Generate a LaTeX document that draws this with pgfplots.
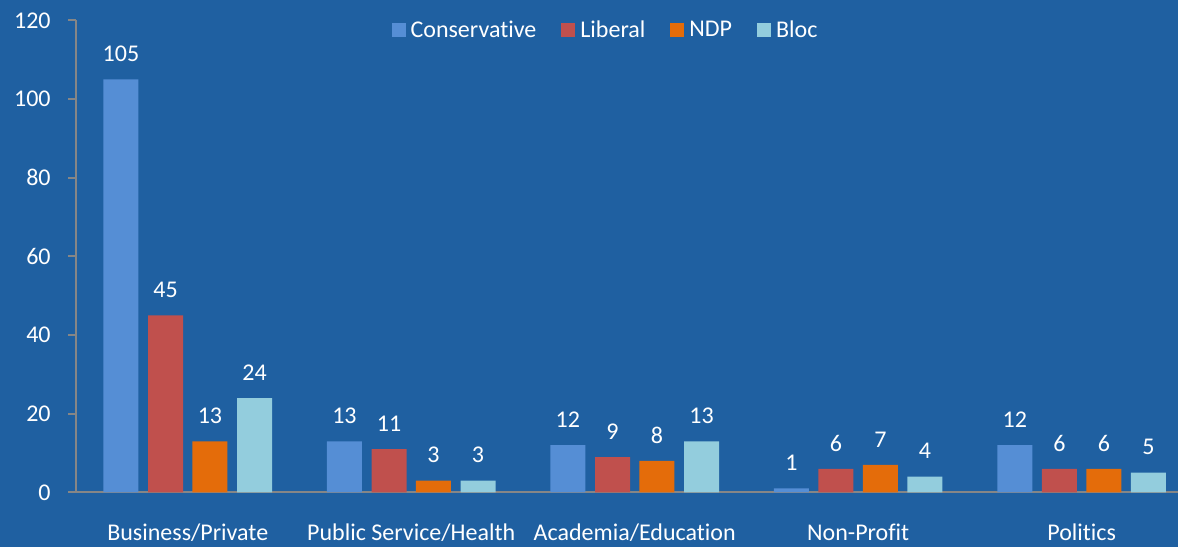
\documentclass[border=0pt]{standalone}
\usepackage{pgfplots}
\pgfplotsset{compat=1.18}
\usepackage{fontspec}
\setmainfont{Carlito}[Ligatures=NoCommon]
\usetikzlibrary{backgrounds}

\definecolor{bgblue}{RGB}{31,96,161}
\definecolor{axisgray}{RGB}{134,134,134}
\definecolor{cons}{RGB}{85,142,213}
\definecolor{lib}{RGB}{192,80,77}
\definecolor{ndp}{RGB}{228,108,10}
\definecolor{bloc}{RGB}{147,205,221}

\begin{document}
\begin{tikzpicture}[font=\fontsize{12}{14.4}\selectfont]
\begin{axis}[
    at={(0,0)}, anchor=south west,
    width=551pt, height=236pt, scale only axis,
    xmin=-0.5, xmax=4.431, ymin=0, ymax=120,
    axis lines*=left,
    axis line style={draw=axisgray, line width=1pt},
    xtick={0,1,2,3,4},
    xticklabels={Business/Private, Public Service/Health, Academia/Education, Non-Profit, Politics},
    x tick style={draw=none},
    xticklabel style={anchor=base, yshift=-20pt, text=white},
    ytick={0,20,...,120},
    y tick style={draw=axisgray, line width=1pt},
    tick align=outside, major tick length=4pt,
    yticklabel style={anchor=east, inner sep=0pt, xshift=-8.5pt, text=white},
    /pgf/number format/assume math mode=true,
    ybar, bar width=17.5pt,
    nodes near coords,
    every node near coord/.append style={anchor=base, yshift=8.9pt, text=white},
    legend columns=-1,
    legend style={at={(0.4796,0.979)}, anchor=center, draw=none, fill=none,
        text=white, nodes={inner sep=0pt},
        /tikz/every odd column/.append style={column sep=2.5pt},
        /tikz/every even column/.append style={column sep=12.5pt}},
    legend image code/.code={\fill[#1] (0pt,-3.5pt) rectangle (7pt,3.5pt);},
]
\addplot[fill=cons, draw=none, bar shift=-33.4pt] coordinates {(0,105) (1,13) (2,12) (3,1) (4,12)};
\addplot[fill=lib, draw=none, bar shift=-11.1pt] coordinates {(0,45) (1,11) (2,9) (3,6) (4,6)};
\addplot[fill=ndp, draw=none, bar shift=11.1pt] coordinates {(0,13) (1,3) (2,8) (3,7) (4,6)};
\addplot[fill=bloc, draw=none, bar shift=33.4pt] coordinates {(0,24) (1,3) (2,13) (3,4) (4,5)};
\legend{Conservative, Liberal, NDP, Bloc}
\end{axis}
\begin{scope}[on background layer]
\fill[bgblue] (-38pt,-27.35pt) rectangle (551pt,246.2pt);
\end{scope}
\pgfresetboundingbox
\path[use as bounding box] (-38pt,-27.35pt) rectangle (551pt,246.2pt);
\end{tikzpicture}
\end{document}
